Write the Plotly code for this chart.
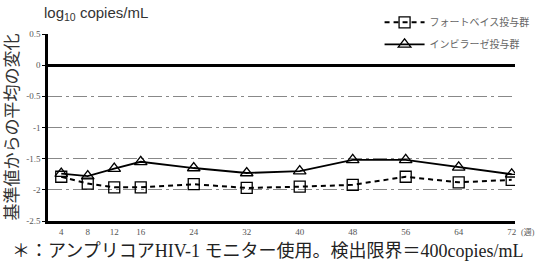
import plotly.graph_objects as go

weeks = [4, 8, 12, 16, 24, 32, 40, 48, 56, 64, 72]
fortovase = [-1.79, -1.90, -1.96, -1.96, -1.91, -1.97, -1.95, -1.92, -1.79, -1.88, -1.84]
invirase = [-1.74, -1.78, -1.66, -1.55, -1.65, -1.73, -1.70, -1.52, -1.52, -1.64, -1.75]
name_f = "フォートベイス投与群"
name_i = "インビラーゼ投与群"
ytick_vals = [0.5, 0, -0.5, -1, -1.5, -2, -2.5]
ytick_text = ["0.5", "0", "-0.5", "-1", "-1.5", "-2", "-2.5"]
xtick_text = ["4", "8", "12", "16", "24", "32", "40", "48", "56", "64", "72"]

serif = "Liberation Serif, Noto Sans CJK JP, serif"
cjk = "Liberation Serif, Noto Sans CJK JP"

fig = go.Figure()
fig.add_trace(go.Scatter(
    x=weeks, y=fortovase, name=name_f, mode="lines+markers",
    line=dict(color="black", width=2, dash="5px,4px"),
    marker=dict(symbol="square-open", size=11, color="black", line=dict(width=1.3)),
    legendgroup="a",
))
fig.add_trace(go.Scatter(
    x=weeks, y=invirase, name=name_i, mode="lines+markers",
    line=dict(color="black", width=1.8),
    marker=dict(symbol="triangle-up-open", size=11, color="black", line=dict(width=1.3)),
    legendgroup="b",
))

fig.update_layout(
    width=541, height=263,
    margin=dict(l=48, r=26, t=34, b=42, autoexpand=False),
    plot_bgcolor="white", paper_bgcolor="white",
    font=dict(family=serif, size=9, color="#555"),
    showlegend=True,
    legend=dict(
        x=0.71, y=1.14, xanchor="left", yanchor="top",
        font=dict(family="Noto Sans CJK JP", size=10, color="#666"),
        tracegroupgap=3, itemwidth=40, bgcolor="rgba(0,0,0,0)",
    ),
    xaxis=dict(
        range=[2, 72.5], tickvals=weeks, ticktext=xtick_text,
        showline=True, linecolor="black", linewidth=2.5,
        showgrid=False, zeroline=False, ticks="",
        tickfont=dict(family=serif, size=9, color="#555"),
    ),
    yaxis=dict(
        range=[-2.5, 0.5], tickvals=ytick_vals, ticktext=ytick_text,
        showline=True, linecolor="black", linewidth=2.5,
        showgrid=True, gridcolor="#888", gridwidth=1.2, griddash="14px,4px,3px,4px",
        zeroline=True, zerolinecolor="black", zerolinewidth=2.5,
        ticks="outside", ticklen=3, tickcolor="black",
        tickfont=dict(family=serif, size=9, color="#555"),
    ),
)

fig.add_annotation(
    text="log<sub>10</sub> copies/mL", xref="paper", yref="paper",
    x=0, y=1, xshift=-6, yshift=21, xanchor="left", yanchor="middle",
    showarrow=False, font=dict(family="Liberation Sans, Arial", size=15, color="#333"),
)
fig.add_annotation(
    text="基準値からの平均の変化", xref="paper", yref="paper",
    x=0, y=0.5, xshift=-36, xanchor="center", yanchor="middle", textangle=-90,
    showarrow=False, font=dict(family=cjk, size=17, color="#333"),
)
fig.add_annotation(
    text="(週)", xref="x", yref="paper", x=72, y=0, xshift=7, yshift=-11,
    xanchor="left", yanchor="middle", showarrow=False,
    font=dict(family=cjk, size=8, color="#555"),
)
fig.add_annotation(
    text="＊：アンプリコアHIV-1 モニター使用。検出限界＝400copies/mL",
    xref="paper", yref="paper", x=0, y=0, xshift=-38, yshift=-30,
    xanchor="left", yanchor="middle", showarrow=False,
    font=dict(family=cjk, size=18, color="#222"),
)

fig.write_html("out.html")
